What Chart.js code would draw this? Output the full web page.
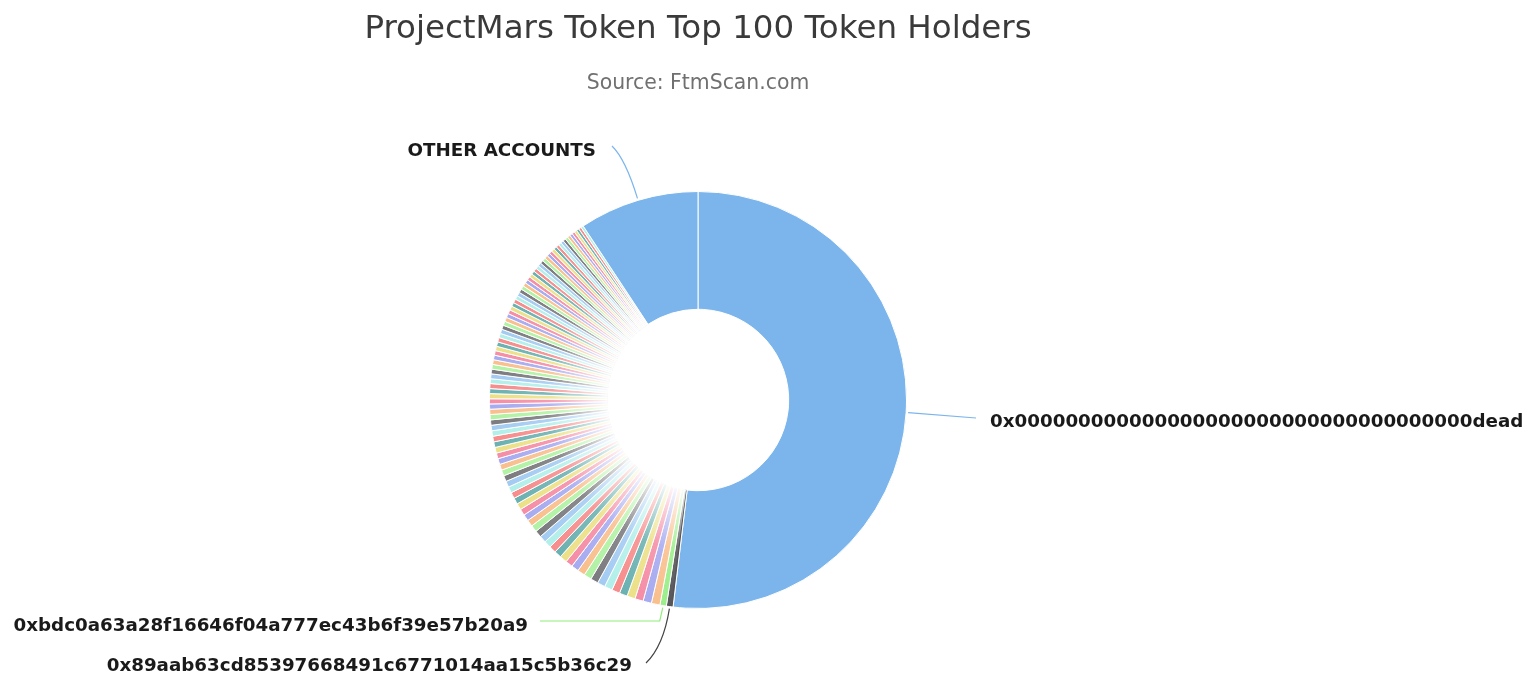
<!DOCTYPE html>
<html>
<head>
<meta charset="utf-8">
<script src="https://cdn.jsdelivr.net/npm/chart.js@4.4.0/dist/chart.umd.min.js"></script>
<style>
  html, body { margin: 0; padding: 0; background: #ffffff; }
  #wrap { width: 1529px; height: 679px; position: relative; }
</style>
</head>
<body>
<div id="wrap"><canvas id="c" width="1529" height="679"></canvas></div>
<script>
// ---- data (percentages of supply held) ----
const chartTitle = 'ProjectMars Token Top 100 Token Holders';
const chartSubtitle = 'Source: FtmScan.com';

const knownHolders = [
  '0x000000000000000000000000000000000000dead',
  '0x89aab63cd85397668491c6771014aa15c5b36c29',
  '0xbdc0a63a28f16646f04a777ec43b6f39e57b20a9'
];
const otherLabel = 'OTHER ACCOUNTS';

const deadValue = 52.0;
const otherValue = 9.3;
const holderValues = [
  0.52, 0.50,
  0.665,0.655,0.645,0.635,0.625,0.625,0.615,0.605,0.595,0.595,
  0.585,0.575,0.565,0.565,0.555,0.545,0.545,0.535,0.525,0.525,
  0.515,0.505,0.505,0.495,0.485,0.485,0.475,0.475,0.465,0.465,
  0.455,0.455,0.445,0.445,0.435,0.435,0.425,0.425,0.415,0.415,
  0.405,0.405,0.395,0.395,0.385,0.385,0.375,0.375,0.365,0.365,
  0.365,0.355,0.355,0.345,0.345,0.345,0.335,0.335,0.325,0.325,
  0.325,0.315,0.315,0.315,0.305,0.305,0.295,0.295,0.295,0.285,
  0.285,0.285,0.275,0.275,0.275,0.265,0.265,0.265,0.255,0.255,
  0.255,0.245,0.245,0.245,0.235,0.235,0.235,0.225,0.225,0.225,
  0.215,0.215,0.215,0.205,0.205,0.205,0.195
];

const palette = ['#7cb5ec', '#434348', '#90ed7d', '#f7a35c', '#8085e9',
                 '#f15c80', '#e4d354', '#2b908f', '#f45b5b', '#91e8e1'];

// ---- build library structures ----
const values = [deadValue, ...holderValues, otherValue];
const categories = [knownHolders[0], knownHolders[1], knownHolders[2]];
for (let i = 3; i < values.length - 1; i++) categories.push('Holder #' + (i + 1));
categories.push(otherLabel);

function lighten(hex, t) {
  const n = parseInt(hex.slice(1), 16);
  const r = (n >> 16) & 255, g = (n >> 8) & 255, b = n & 255;
  const m = c => Math.round(c + (255 - c) * t);
  return 'rgb(' + m(r) + ',' + m(g) + ',' + m(b) + ')';
}
const lineColors = values.map((v, i) => palette[i % palette.length]);
const colors = values.map((v, i) =>
  (i === 0 || i === values.length - 1) ? palette[0] : lighten(palette[i % palette.length], i <= 2 ? 0.1 : 0.3));

// label styling / placement (offsets relative to pie centre)
const labelDefs = [
  { index: 0, align: 'left',  dx: 292,  dy: 22,  path: 'straight' },
  { index: values.length - 1, align: 'right', dx: -102, dy: -249, path: 'curveUp' },
  { index: 2, align: 'right', dx: -170, dy: 226, path: 'elbow' },
  { index: 1, align: 'right', dx: -66,  dy: 266, path: 'down' }
];

const fadePlugin = {
  id: 'fade',
  afterDatasetsDraw(chart) {
    const ctx = chart.ctx;
    const meta = chart.getDatasetMeta(0);
    const first = meta.data[1], last = meta.data[values.length - 2];
    const p1 = first.getProps(['x', 'y', 'startAngle', 'innerRadius', 'outerRadius'], true);
    const p2 = last.getProps(['endAngle'], true);
    ctx.save();
    ctx.beginPath();
    ctx.arc(p1.x, p1.y, p1.outerRadius, p1.startAngle + 0.012, p2.endAngle);
    ctx.arc(p1.x, p1.y, p1.innerRadius, p2.endAngle, p1.startAngle + 0.012, true);
    ctx.closePath();
    ctx.clip();
    const g = ctx.createRadialGradient(p1.x, p1.y, p1.innerRadius, p1.x, p1.y, p1.outerRadius);
    g.addColorStop(0, 'rgba(255,255,255,0.92)');
    g.addColorStop(0.22, 'rgba(255,255,255,0.55)');
    g.addColorStop(0.5, 'rgba(255,255,255,0.12)');
    g.addColorStop(1, 'rgba(255,255,255,0)');
    ctx.fillStyle = g;
    ctx.fillRect(p1.x - p1.outerRadius, p1.y - p1.outerRadius, p1.outerRadius * 2, p1.outerRadius * 2);
    ctx.restore();
  }
};

const decorPlugin = {
  id: 'decor',
  afterDraw(chart) {
    const ctx = chart.ctx;
    const meta = chart.getDatasetMeta(0);
    const a0 = meta.data[0];
    const cx = a0.x, cy = a0.y;
    ctx.save();
    // title & subtitle
    ctx.textAlign = 'center';
    ctx.textBaseline = 'middle';
    ctx.fillStyle = '#3a3a3a';
    ctx.font = '32.5px "DejaVu Sans"';
    ctx.fillText(chartTitle, cx, 30);
    ctx.fillStyle = '#707070';
    ctx.font = '20.4px "DejaVu Sans"';
    ctx.fillText(chartSubtitle, cx, 84);

    // data labels + connectors
    ctx.font = 'bold 18.3px "DejaVu Sans"';
    labelDefs.forEach(def => {
      const arc = meta.data[def.index];
      const p = arc.getProps(['x', 'y', 'startAngle', 'endAngle', 'outerRadius'], true);
      const mid = (p.startAngle + p.endAngle) / 2;
      const sx = p.x + Math.cos(mid) * (p.outerRadius + 2);
      const sy = p.y + Math.sin(mid) * (p.outerRadius + 2);
      const tx = cx + def.dx, ty = cy + def.dy;
      ctx.strokeStyle = lineColors[def.index];
      ctx.lineWidth = 1.2;
      ctx.beginPath();
      ctx.moveTo(sx, sy);
      if (def.path === 'straight') {
        ctx.lineTo(tx - 14, ty - 4);
      } else if (def.path === 'curveUp') {
        ctx.quadraticCurveTo(sx - 12, ty + 8, tx + 16, ty - 5);
      } else if (def.path === 'elbow') {
        ctx.lineTo(sx - 3, ty - 5);
        ctx.lineTo(tx + 12, ty - 5);
      } else {
        ctx.quadraticCurveTo(sx - 6, ty - 20, tx + 14, ty - 3);
      }
      ctx.stroke();
      ctx.fillStyle = '#1a1a1a';
      ctx.textAlign = def.align;
      ctx.textBaseline = 'middle';
      ctx.fillText(categories[def.index], tx, ty);
    });
    ctx.restore();
  }
};

new Chart(document.getElementById('c'), {
  type: 'doughnut',
  data: {
    labels: categories,
    datasets: [{
      data: values,
      backgroundColor: colors,
      borderColor: '#ffffff',
      borderWidth: 1,
      hoverOffset: 0,
      offset: 0
    }]
  },
  options: {
    responsive: false,
    animation: false,
    cutout: '43.5%',
    layout: { padding: { left: 489, right: 622, top: 191, bottom: 70 } },
    plugins: {
      legend: { display: false },
      tooltip: { enabled: false },
      title: { display: false }
    }
  },
  plugins: [fadePlugin, decorPlugin]
});
</script>
</body>
</html>
